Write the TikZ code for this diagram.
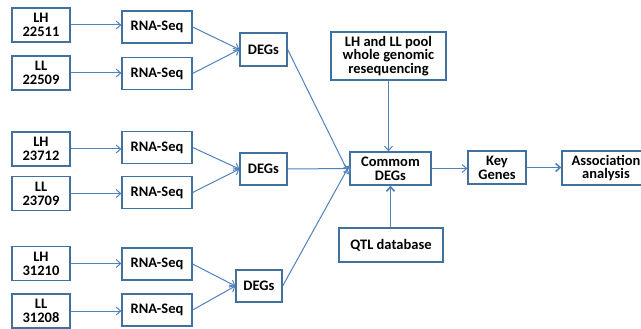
\documentclass[tikz,border=0pt]{standalone}
\usepackage{fontspec}
\setmainfont{Carlito}
\usetikzlibrary{arrows.meta,calc}
\definecolor{boxblue}{HTML}{41719C}
\definecolor{lineblue}{HTML}{4F81BD}
\begin{document}
\begin{tikzpicture}[x=1pt,y=-1pt,
  box/.style={draw=boxblue,line width=1.3pt,fill=white,inner sep=0pt,align=center,
    font=\fontsize{14.5}{13.8}\selectfont\bfseries},
  conn/.style={draw=lineblue,line width=1pt,-{Straight Barb[length=4.5pt,width=8pt]}},
  thick conn/.style={draw=lineblue,line width=1.6pt,-{Straight Barb[length=4.5pt,width=8pt]}}]
\useasboundingbox (0,0) rectangle (641,329);
% left boxes
\node[box,minimum width=58pt,minimum height=34pt] (lh1) at (41,25) {LH\\22511};
\node[box,minimum width=58pt,minimum height=34pt] (ll1) at (41,73) {LL\\22509};
\node[box,minimum width=58pt,minimum height=34pt] (lh2) at (41,149) {LH\\23712};
\node[box,minimum width=58pt,minimum height=34pt] (ll2) at (41,193.5) {LL\\23709};
\node[box,minimum width=58pt,minimum height=34pt] (lh3) at (41,263.5) {LH\\31210};
\node[box,minimum width=58pt,minimum height=34pt] (ll3) at (41,311) {LL\\31208};
% RNA-Seq
\node[box,minimum width=70pt,minimum height=32pt] (r1) at (157,27) {RNA-Seq};
\node[box,minimum width=70pt,minimum height=32pt] (r2) at (157,73.5) {RNA-Seq};
\node[box,minimum width=70pt,minimum height=32pt] (r3) at (157,147.5) {RNA-Seq};
\node[box,minimum width=70pt,minimum height=32pt] (r4) at (157,192.5) {RNA-Seq};
\node[box,minimum width=70pt,minimum height=32pt] (r5) at (157,264) {RNA-Seq};
\node[box,minimum width=70pt,minimum height=32pt] (r6) at (157,310) {RNA-Seq};
% DEGs
\node[box,minimum width=47pt,minimum height=33pt] (d1) at (263.5,49.5) {DEGs};
\node[box,minimum width=47pt,minimum height=32pt] (d2) at (263.5,169) {DEGs};
\node[box,minimum width=46pt,minimum height=32pt] (d3) at (259,286) {DEGs};
% right part
\node[box,minimum width=115pt,minimum height=48pt] (pool) at (388.5,56) {LH and LL pool\\whole genomic\\resequencing};
\node[box,minimum width=81pt,minimum height=33pt] (com) at (390.5,168.5) {Commom\\DEGs};
\node[box,minimum width=58pt,minimum height=33pt] (key) at (497,167.5) {Key\\Genes};
\node[box,minimum width=88pt,minimum height=34pt,text width=80pt] (assoc) at (606,168) {Association\\analysis};
\node[box,minimum width=104pt,minimum height=34pt] (qtl) at (391,245) {QTL database};
% connectors
\foreach \a/\b in {lh1/r1,ll1/r2,lh2/r3,ll2/r4,lh3/r5,ll3/r6}
  \draw[conn] (\a.east) -- (\a.east -| \b.west);
\draw[conn] (r1.east) -- (d1.west);
\draw[conn] (r2.east) -- (d1.west);
\draw[conn] (r3.east) -- (d2.west);
\draw[conn] (r4.east) -- (d2.west);
\draw[conn] (r5.east) -- (d3.west);
\draw[conn] (r6.east) -- (d3.west);
\draw[conn] (d1.east) -- ([yshift=-6pt]com.west);
\draw[conn] (d2.east) -- (com.west);
\draw[conn] (d3.east) -- ([yshift=3pt]com.west);
\draw[conn] (pool.south) -- (pool.south |- com.north);
\draw[thick conn] (qtl.north -| com.south) -- (com.south);
\draw[conn] (com.east) -- (com.east -| key.west);
\draw[thick conn] (key.east) -- (key.east -| assoc.west);
\end{tikzpicture}
\end{document}
